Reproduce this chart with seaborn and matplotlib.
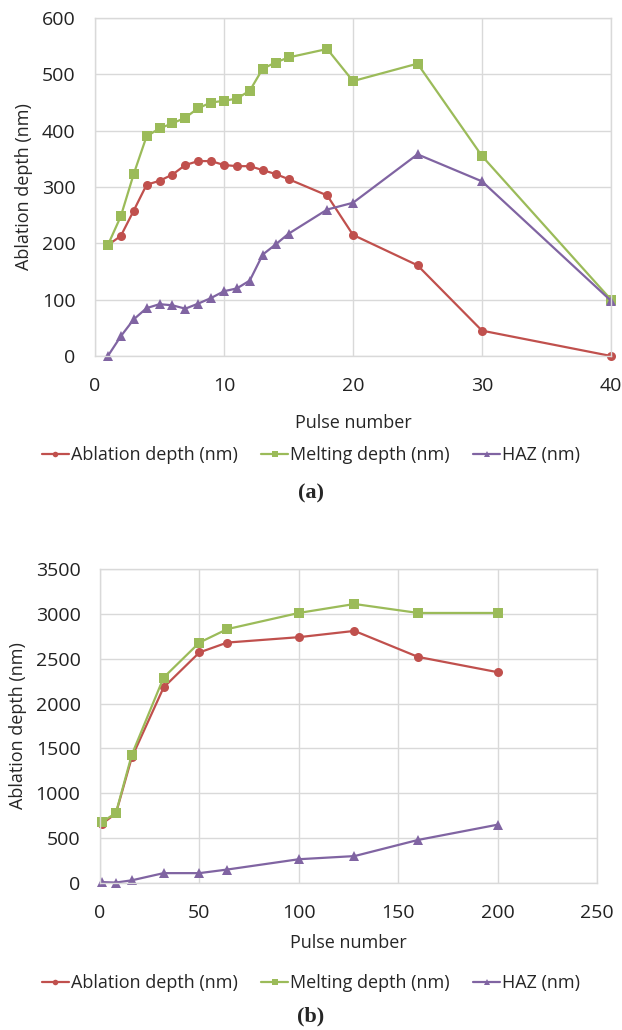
import numpy as np
import pandas as pd
import matplotlib
matplotlib.use("Agg")
import matplotlib.pyplot as plt
import seaborn as sns

# panel (a)
pulse_a = [1, 2, 3, 4, 5, 6, 7, 8, 9, 10, 11, 12, 13, 14, 15, 18, 20, 25, 30, 40]
ablation_a = [197, 213, 258, 304, 311, 322, 339, 346, 346, 339, 337, 337, 330, 323, 314, 285, 215, 161, 45, 0]
melting_a = [197, 248, 323, 390, 404, 413, 423, 440, 450, 453, 457, 471, 510, 521, 530, 545, 488, 519, 355, 100]
haz_a = [0, 35, 65, 85, 92, 90, 84, 93, 103, 115, 120, 134, 180, 198, 217, 260, 272, 358, 310, 98]

# panel (b)
pulse_b = [1, 8, 16, 32, 50, 64, 100, 128, 160, 200]
ablation_b = [660, 775, 1400, 2180, 2570, 2680, 2740, 2810, 2520, 2350]
melting_b = [680, 780, 1430, 2290, 2680, 2830, 3010, 3110, 3010, 3010]
haz_b = [10, 5, 30, 110, 110, 150, 265, 300, 480, 650]

series = ["Ablation depth (nm)", "Melting depth (nm)", "HAZ (nm)"]
colors = ["#C0504D", "#9BBB59", "#8064A2"]
markers = ["o", "s", "^"]


def long_df(x, vals):
    rows = []
    for name, v in zip(series, vals):
        for xi, yi in zip(x, v):
            rows.append({"pulse": xi, "depth": yi, "series": name})
    return pd.DataFrame(rows)


df_a = long_df(pulse_a, [ablation_a, melting_a, haz_a])
df_b = long_df(pulse_b, [ablation_b, melting_b, haz_b])

sns.set_theme(style="white")
plt.rcParams["font.family"] = ["Open Sans", "DejaVu Sans"]

fig = plt.figure(figsize=(6.22, 10.30), dpi=100)
W, H = 622, 1030
ax1 = fig.add_axes([95 / W, 1 - 356 / H, (611 - 95) / W, (356 - 18) / H])
ax2 = fig.add_axes([100 / W, 1 - 883 / H, (597 - 100) / W, (883 - 569) / H])

pal = dict(zip(series, colors))
mk = dict(zip(series, markers))

for ax, d, xlim, ylim, xt, yt, lp in [
    (ax1, df_a, (0, 40), (0, 600), np.arange(0, 41, 10), np.arange(0, 601, 100), 14),
    (ax2, df_b, (0, 250), (0, 3500), np.arange(0, 251, 50), np.arange(0, 3501, 500), 9),
]:
    sns.lineplot(data=d, x="pulse", y="depth", hue="series", style="series",
                 palette=pal, markers=mk, dashes=False, markersize=6.5,
                 markeredgewidth=0, linewidth=1.6, ax=ax, legend=False, clip_on=False)
    ax.set_xlim(*xlim)
    ax.set_ylim(*ylim)
    ax.set_xticks(xt)
    ax.set_yticks(yt)
    ax.grid(True, color="#D9D9D9", linewidth=1)
    ax.set_axisbelow(True)
    for s in ax.spines.values():
        s.set_color("#D9D9D9")
        s.set_linewidth(1)
    ax.tick_params(labelsize=14, length=0, colors="#222222")
    ax.tick_params(axis="x", pad=15)
    ax.tick_params(axis="y", pad=14)
    ax.set_xlabel("Pulse number", fontsize=13, labelpad=lp)
    ax.set_ylabel("Ablation depth (nm)", fontsize=13, labelpad=6)

handles = [plt.Line2D([], [], color=c, marker=m, markersize=4, linewidth=1.6,
                      markeredgewidth=0) for c, m in zip(colors, markers)]

for ax, ly, cap, cy in [(ax1, 455, "(a)", 493), (ax2, 983, "(b)", 1016)]:
    fig.legend(handles, series, loc="center", bbox_to_anchor=(0.5, 1 - ly / H),
               ncol=3, frameon=False, fontsize=13, handlelength=1.5,
               handletextpad=0.1, columnspacing=1.3)
    fig.text(0.5, 1 - cy / H, cap, ha="center", va="center", fontsize=16,
             fontweight="bold", family=["Liberation Serif", "DejaVu Serif"])

fig.savefig("out.png", dpi=100)
